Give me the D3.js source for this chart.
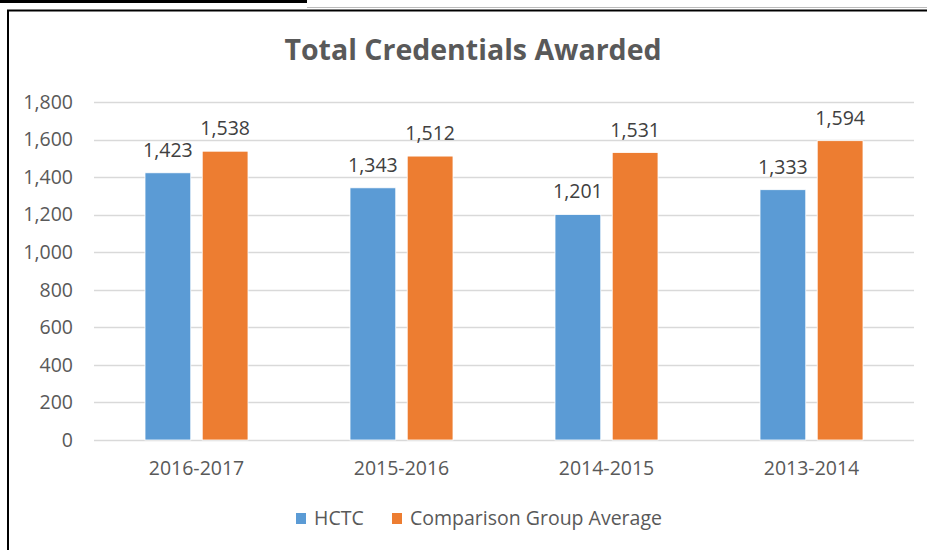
<!DOCTYPE html>
<html>
<head>
<meta charset="utf-8">
<script src="https://cdn.jsdelivr.net/npm/d3@7"></script>
<style>
  body { margin: 0; background: #fff; }
  svg { display: block; font-family: "Open Sans", sans-serif; }
</style>
</head>
<body>
<svg id="canvas" width="927" height="550"></svg>
<script>
// chart data
let categories = ['2016-2017', '2015-2016', '2014-2015', '2013-2014']
let seriesNames = ['HCTC', 'Comparison Group Average']
let hctcValues = [1423, 1343, 1201, 1333]
let comparisonValues = [1538, 1512, 1531, 1594]
let yTicks = [0, 200, 400, 600, 800, 1000, 1200, 1400, 1600, 1800]

let colors = ['#5B9BD5', '#ED7D31']

let canvas = d3.select('#canvas')

// outer frame bits from the screenshot
canvas.append('rect').attr('x', 0).attr('y', 0).attr('width', 307).attr('height', 3).attr('fill', '#000')
canvas.append('line').attr('x1', 307).attr('x2', 927).attr('y1', 7.5).attr('y2', 7.5)
    .attr('stroke', '#bbb').attr('stroke-width', 1)
canvas.append('path')
    .attr('d', 'M8,550 L8,10.5 L927,10.5')
    .attr('fill', 'none').attr('stroke', '#000').attr('stroke-width', 2)

let rows = categories.map((c, i) => ({ cat: c, values: [hctcValues[i], comparisonValues[i]] }))

let xScale = d3.scaleBand().domain(categories).range([94, 914])
let xInner = d3.scaleBand().domain(seriesNames).range([51, 154]).paddingInner(0.2)
let yScale = d3.scaleLinear().domain([0, 1800]).range([440, 102])

// gridlines
canvas.append('g')
    .selectAll('line')
    .data(yTicks)
    .enter()
    .append('line')
    .attr('x1', 94).attr('x2', 914)
    .attr('y1', d => Math.round(yScale(d)) + 0.5)
    .attr('y2', d => Math.round(yScale(d)) + 0.5)
    .attr('stroke', '#D9D9D9').attr('stroke-width', 1.3)

// y axis labels
let yAxis = d3.axisLeft(yScale).tickValues(yTicks).tickFormat(d3.format(',')).tickSize(0).tickPadding(0)
let yG = canvas.append('g').attr('transform', 'translate(73,0)').call(yAxis)
yG.select('.domain').remove()
yG.selectAll('text').attr('fill', '#595959').style('font-size', '19.5px').style('font-family', '"Open Sans", sans-serif')

// x axis labels
let xAxis = d3.axisBottom(xScale).tickSize(0).tickPadding(0)
let xG = canvas.append('g').attr('transform', 'translate(0,461)').call(xAxis)
xG.select('.domain').remove()
xG.selectAll('text').attr('fill', '#595959').style('font-size', '19.5px').style('font-family', '"Open Sans", sans-serif')

// bars
let groups = canvas.append('g')
    .selectAll('g')
    .data(rows)
    .enter()
    .append('g')
    .attr('transform', d => 'translate(' + xScale(d.cat) + ',0)')

groups.selectAll('rect')
    .data(d => d.values.map((v, i) => ({ name: seriesNames[i], value: v, idx: i })))
    .enter()
    .append('rect')
    .attr('x', d => xInner(d.name))
    .attr('width', xInner.bandwidth())
    .attr('y', d => yScale(d.value))
    .attr('height', d => yScale(0) - yScale(d.value))
    .attr('fill', d => colors[d.idx])
    .attr('stroke', '#fff').attr('stroke-width', 0.8)

groups.selectAll('text')
    .data(d => d.values.map((v, i) => ({ name: seriesNames[i], value: v })))
    .enter()
    .append('text')
    .attr('x', d => xInner(d.name) + xInner.bandwidth() / 2)
    .attr('y', d => yScale(d.value) - 16)
    .attr('text-anchor', 'middle')
    .attr('fill', '#404040')
    .style('font-size', '19.5px')
    .text(d => d3.format(',')(d.value))

// title
canvas.append('text')
    .attr('x', 473).attr('y', 60)
    .attr('text-anchor', 'middle')
    .attr('fill', '#595959')
    .style('font-size', '28.5px').style('font-weight', 'bold')
    .text('Total Credentials Awarded')

// legend
let legendX = [296, 392]
let legend = canvas.append('g')
    .selectAll('g')
    .data(seriesNames)
    .enter()
    .append('g')
    .attr('transform', (d, i) => 'translate(' + legendX[i] + ',0)')
legend.append('rect')
    .attr('x', 0).attr('y', 513).attr('width', 10).attr('height', 11)
    .attr('fill', (d, i) => colors[i])
legend.append('text')
    .attr('x', 18).attr('y', 525)
    .attr('fill', '#595959')
    .style('font-size', '19.5px')
    .text(d => d)
</script>
</body>
</html>
